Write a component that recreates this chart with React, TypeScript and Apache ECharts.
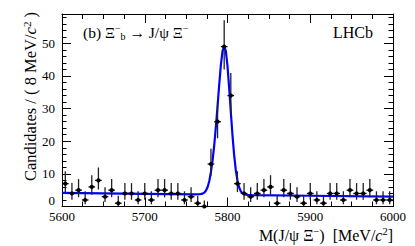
import React, { useEffect, useRef } from "react";
import * as echarts from "echarts";

// Bin centres (8 MeV bins) and candidate counts
const MASS = [
  5604, 5612, 5620, 5628, 5636, 5644, 5652, 5660, 5668, 5676,
  5684, 5692, 5700, 5708, 5716, 5724, 5732, 5740, 5748, 5756,
  5764, 5772, 5780, 5788, 5796, 5804, 5812, 5820, 5828, 5836,
  5844, 5852, 5860, 5868, 5876, 5884, 5892, 5900, 5908, 5916,
  5924, 5932, 5940, 5948, 5956, 5964, 5972, 5980, 5988, 5996,
];
const COUNTS = [
  7, 4, 5, 2, 6, 8, 3, 5, 1, 4,
  4, 2, 4, 2, 5, 5, 4, 4, 2, 3,
  1, 0, 13, 26, 49, 34, 7, 4, 3, 4,
  5, 6, 1, 5, 4, 3, 1, 4, 2, 1,
  4, 4, 2, 5, 4, 4, 5, 2, 2, 2,
];

// Fit curve
const FIT_MASS = [
  5600, 5700, 5760, 5766, 5770, 5772, 5774, 5776, 5778, 5780,
  5782, 5784, 5786, 5788, 5790, 5792, 5794, 5796, 5798, 5800,
  5802, 5804, 5806, 5808, 5810, 5812, 5814, 5816, 5818, 5820,
  5824, 5830, 5900, 6000,
];
const FIT_VALUE = [
  4.2, 3.9, 3.72, 3.75, 3.95, 4.25, 4.9, 6.0, 7.8, 10.6,
  14.2, 18.9, 24.6, 30.8, 37.4, 43.4, 47.6, 49.2, 47.6, 43.0,
  36.4, 29.0, 21.9, 15.8, 11.2, 8.0, 5.9, 4.7, 4.1, 3.78,
  3.56, 3.5, 3.3, 3.0,
];

const X_TICKS = { min: 5600, max: 6000, step: 100 };
const Y_TICKS = { min: 0, max: 59, step: 10 };

const FONT = "Liberation Serif";

function poissonLow(n: number) {
  return n > 0 ? n - Math.sqrt(n - 0.25) : 0;
}
function poissonHigh(n: number) {
  return n + 1 + Math.sqrt(n + 0.75);
}

export default function App() {
  const ref = useRef<HTMLDivElement>(null);
  useEffect(() => {
    if (!ref.current) return;
    const chart = echarts.init(ref.current, undefined, { renderer: "svg" });
    const pts = MASS.map((m, i) => [m, COUNTS[i], poissonLow(COUNTS[i]), poissonHigh(COUNTS[i])]);
    const fit = FIT_MASS.map((m, i) => [m, FIT_VALUE[i]]);

    const axisCommon = {
      type: "value",
      axisLine: { show: true, onZero: false, lineStyle: { color: "#000", width: 1 } },
      splitLine: { show: false },
    };

    chart.setOption({
      animation: false,
      backgroundColor: "#fff",
      grid: { left: 62, right: 22, top: 14, bottom: 39.5, containLabel: false },
      xAxis: [
        {
          ...axisCommon,
          position: "bottom",
          min: X_TICKS.min,
          max: X_TICKS.max,
          interval: X_TICKS.step,
          axisTick: { show: true, inside: true, length: 9, lineStyle: { color: "#000", width: 1 } },
          minorTick: { show: true, splitNumber: 4, length: 5, lineStyle: { color: "#000", width: 1 } },
          axisLabel: {
            show: true,
            color: "#000",
            fontFamily: FONT,
            fontSize: 13,
            margin: 3,
            showMinLabel: true,
            showMaxLabel: true,
            formatter: (v: number) => String(v),
          },
        },
        {
          ...axisCommon,
          position: "top",
          min: X_TICKS.min,
          max: X_TICKS.max,
          interval: X_TICKS.step,
          axisTick: { show: true, inside: true, length: 9, lineStyle: { color: "#000", width: 1 } },
          minorTick: { show: true, splitNumber: 4, length: 5, lineStyle: { color: "#000", width: 1 } },
          axisLabel: { show: false },
        },
      ],
      yAxis: [
        {
          ...axisCommon,
          position: "left",
          min: Y_TICKS.min,
          max: Y_TICKS.max,
          interval: Y_TICKS.step,
          axisTick: { show: true, inside: true, length: 9, lineStyle: { color: "#000", width: 1 } },
          minorTick: { show: true, splitNumber: 5, length: 4.5, lineStyle: { color: "#000", width: 1 } },
          axisLabel: {
            show: true,
            color: "#000",
            fontFamily: FONT,
            fontSize: 13,
            margin: 7,
            showMinLabel: false,
            formatter: (v: number) => (v !== 0 && v % 10 === 0 ? String(v) : ""),
          },
        },
        {
          ...axisCommon,
          position: "right",
          min: Y_TICKS.min,
          max: Y_TICKS.max,
          interval: Y_TICKS.step,
          axisTick: { show: true, inside: true, length: 9, lineStyle: { color: "#000", width: 1 } },
          minorTick: { show: true, splitNumber: 5, length: 4.5, lineStyle: { color: "#000", width: 1 } },
          axisLabel: { show: false },
        },
      ],
      series: [
        {
          type: "line",
          data: fit,
          xAxisIndex: 0,
          yAxisIndex: 0,
          showSymbol: false,
          smooth: false,
          lineStyle: { color: "#0000ff", width: 2.2 },
          z: 2,
          silent: true,
        },
        {
          type: "custom",
          data: pts,
          xAxisIndex: 0,
          yAxisIndex: 0,
          z: 3,
          silent: true,
          renderItem: (params: any, api: any) => {
            const x = api.value(0);
            const n = api.value(1);
            const lo = api.value(2);
            const hi = api.value(3);
            const p = api.coord([x, n]);
            const pl = api.coord([x, lo]);
            const ph = api.coord([x, hi]);
            const hw = api.size([8, 0])[0] / 2;
            return {
              type: "group",
              children: [
                {
                  type: "line",
                  shape: { x1: p[0], y1: pl[1], x2: p[0], y2: ph[1] },
                  style: { stroke: "#222", lineWidth: 1.3 },
                },
                {
                  type: "line",
                  shape: { x1: p[0] - hw, y1: p[1], x2: p[0] + hw, y2: p[1] },
                  style: { stroke: "#000", lineWidth: 1.3 },
                },
                {
                  type: "circle",
                  shape: { cx: p[0], cy: p[1], r: 2.1 },
                  style: { fill: "#000" },
                },
              ],
            };
          },
        },
      ],
      graphic: [
        {
          type: "text",
          x: 55,
          y: 200,
          style: {
            text: String(Y_TICKS.min),
            fontFamily: FONT,
            fontSize: 13,
            fill: "#000",
            align: "right",
            verticalAlign: "middle",
          },
        },
        {
          type: "text",
          x: 30,
          y: 12,
          rotation: Math.PI / 2,
          style: {
            text: "{a|Candidates / ( 8 MeV/}{i|c}{s|2}{a| )}",
            align: "right",
            verticalAlign: "middle",
            fill: "#000",
            rich: {
              a: { fontFamily: FONT, fontSize: 16.5, fill: "#000", lineHeight: 18 },
              i: { fontFamily: FONT, fontSize: 16.5, fontStyle: "italic", fill: "#000", lineHeight: 18 },
              s: { fontFamily: FONT, fontSize: 11, fill: "#000", verticalAlign: "top", lineHeight: 18 },
            },
          },
        },
        {
          type: "text",
          x: 393,
          y: 235,
          style: {
            text: "{a|M(J/ψ Ξ}{s|−}{a|)  [MeV/}{i|c}{s|2}{a|]}",
            align: "right",
            verticalAlign: "middle",
            fill: "#000",
            rich: {
              a: { fontFamily: FONT, fontSize: 16, fill: "#000", lineHeight: 18 },
              i: { fontFamily: FONT, fontSize: 16, fontStyle: "italic", fill: "#000", lineHeight: 18 },
              s: { fontFamily: FONT, fontSize: 10.5, fill: "#000", verticalAlign: "top", lineHeight: 18 },
            },
          },
        },
        {
          type: "text",
          x: 83,
          y: 32,
          style: {
            text: "{a|(b) Ξ}{s|−}{b|b}{a| → J/ψ Ξ}{s|−}",
            align: "left",
            verticalAlign: "middle",
            fill: "#000",
            rich: {
              a: { fontFamily: FONT, fontSize: 15.5, fill: "#000", lineHeight: 18 },
              b: { fontFamily: FONT, fontSize: 10, fill: "#000", verticalAlign: "bottom", lineHeight: 18 },
              s: { fontFamily: FONT, fontSize: 10, fill: "#000", verticalAlign: "top", lineHeight: 18 },
            },
          },
        },
        {
          type: "text",
          x: 373,
          y: 32,
          style: {
            text: "LHCb",
            fontFamily: FONT,
            fontSize: 16,
            fill: "#000",
            align: "right",
            verticalAlign: "middle",
          },
        },
      ],
    });
    return () => chart.dispose();
  }, []);
  return (
    <div
      ref={ref}
      style={{ position: "fixed", left: 0, top: 0, width: 415, height: 246, background: "#fff" }}
    />
  );
}
